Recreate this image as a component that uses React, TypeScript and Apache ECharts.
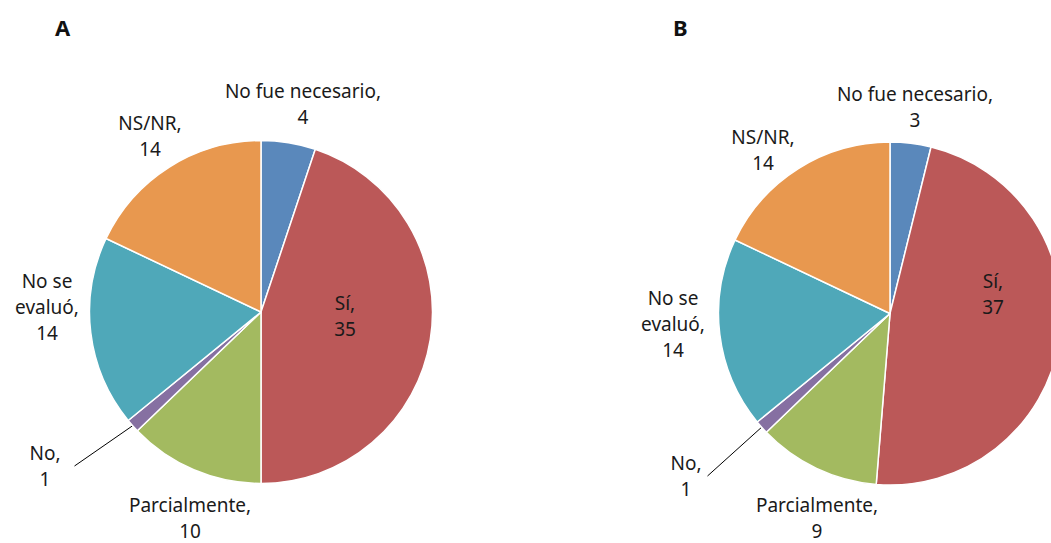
import React, { useEffect, useRef } from "react";
import * as echarts from "echarts";

const categories = ["No fue necesario", "Sí", "Parcialmente", "No", "No se evaluó", "NS/NR"];
const labelNames = ["No fue necesario,", "Sí,", "Parcialmente,", "No,", "No se\nevaluó,", "NS/NR,"];
const valuesA = [4, 35, 10, 1, 14, 14];
const valuesB = [3, 37, 9, 1, 14, 14];
const panelTitles = ["A", "B"];
const colors = ["#5a88bb", "#bb5858", "#a3ba60", "#8670a2", "#4fa8b9", "#e8984f"];

// label anchor positions (centre of each text block), per panel
const labelPosA = [
  [303, 104],
  [345, 316],
  [190, 518],
  [52, 466],
  [47, 307],
  [150, 136],
];
const labelPosB = [
  [915, 107],
  [993, 294],
  [817, 518],
  [689, 476],
  [673, 324],
  [763, 150],
];

function makeSeries(values: number[], center: [number, number], pos: number[][], gap: number) {
  return {
    type: "pie",
    center,
    radius: 171.5,
    startAngle: 90,
    clockwise: true,
    avoidLabelOverlap: false,
    itemStyle: { borderColor: "#ffffff", borderWidth: 1.5 },
    label: {
      show: true,
      position: "outside",
      fontFamily: "Noto Sans",
      fontSize: 19,
      lineHeight: 26,
      color: "#1a1a1a",
      align: "center",
      formatter: (p: any) => `${labelNames[p.dataIndex]}\n${p.value}`,
    },
    labelLine: { show: false },
    labelLayout: (p: any) => ({
      x: pos[p.dataIndex][0],
      y: pos[p.dataIndex][1],
      align: "center",
      verticalAlign: "middle",
    }),
    emphasis: { disabled: true },
    data: values.map((v, i) => ({
      name: categories[i],
      value: v,
      itemStyle: { color: colors[i] },
      label: categories[i] === "No" ? { padding: [0, gap, 0, 0] } : {},
      labelLine:
        categories[i] === "No"
          ? { show: true, length: 2, length2: 0, lineStyle: { color: "#000", width: 1 } }
          : { show: false },
    })),
  };
}

export default function App() {
  const ref = useRef<HTMLDivElement>(null);
  useEffect(() => {
    document.body.style.margin = "0";
    const chart = echarts.init(ref.current!, undefined, { renderer: "svg" });
    chart.setOption({
      animation: false,
      backgroundColor: "#ffffff",
      title: [
        {
          text: panelTitles[0],
          left: 50,
          top: 11,
          textStyle: { fontFamily: "Noto Sans", fontWeight: "bold", fontSize: 22, color: "#111" },
        },
        {
          text: panelTitles[1],
          left: 668,
          top: 11,
          textStyle: { fontFamily: "Noto Sans", fontWeight: "bold", fontSize: 22, color: "#111" },
        },
      ],
      series: [
        makeSeries(valuesA, [261, 312], labelPosA, 14),
        makeSeries(valuesB, [890, 313.5], labelPosB, 6),
      ],
    });
    return () => chart.dispose();
  }, []);
  return <div ref={ref} style={{ width: 1051, height: 543 }} />;
}
